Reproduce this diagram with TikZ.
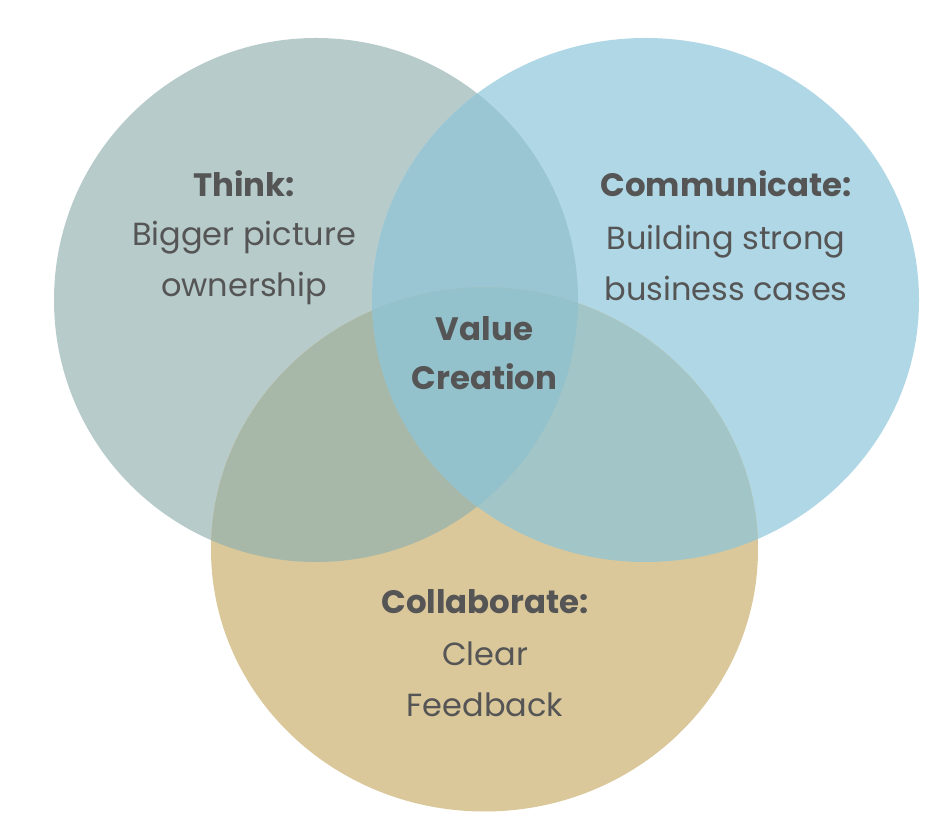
\documentclass[tikz,border=0pt]{standalone}
\usepackage{fontspec}
\setmainfont{Poppins}
\definecolor{leftc}{RGB}{184,203,203}
\definecolor{rightc}{RGB}{176,215,229}
\definecolor{botc}{RGB}{218,200,155}
\definecolor{lrc}{RGB}{154,197,210}
\definecolor{lbc}{RGB}{168,184,168}
\definecolor{rbc}{RGB}{162,197,199}
\definecolor{allc}{RGB}{147,193,204}
\definecolor{txt}{RGB}{85,85,85}
\tikzset{
  lbl/.style={text=txt, align=center, inner sep=0pt, font=\fontsize{16}{25.5}\selectfont},
  head/.style={lbl, font=\fontsize{16.2}{24.5}\selectfont\bfseries}
}
\newcommand{\lefte}{(316,300) ellipse [x radius=131pt, y radius=131pt]}
\newcommand{\righte}{(645.5,300) ellipse [x radius=136.75pt, y radius=131pt]}
\newcommand{\bote}{(484.5,549.5) ellipse [x radius=136.75pt, y radius=131pt]}
\begin{document}
\begin{tikzpicture}[x=0.5pt,y=-0.5pt]
\useasboundingbox (0,0) rectangle (944,822);
\fill[white] (0,0) rectangle (944,822);
\fill[leftc] \lefte;
\fill[rightc] \righte;
\fill[botc] \bote;
\begin{scope}
  \clip \lefte;
  \fill[lrc] \righte;
  \fill[lbc] \bote;
\end{scope}
\begin{scope}
  \clip \righte;
  \fill[rbc] \bote;
  \clip \bote;
  \fill[allc] \lefte;
\end{scope}
\node[head] (think) at (244,184) {Think:};
\node[lbl] (thinkt) at (244,263) {Bigger picture\\ownership};
\node[head] (comm) at (726,184) {Communicate:};
\node[lbl] (commt) at (726,263) {Building strong\\business cases};
\node[head] (value) at (484.5,353) {Value\\Creation};
\node[head] (coll) at (485,602) {Collaborate:};
\node[lbl] (collt) at (485,679) {Clear\\Feedback};
\end{tikzpicture}
\end{document}
